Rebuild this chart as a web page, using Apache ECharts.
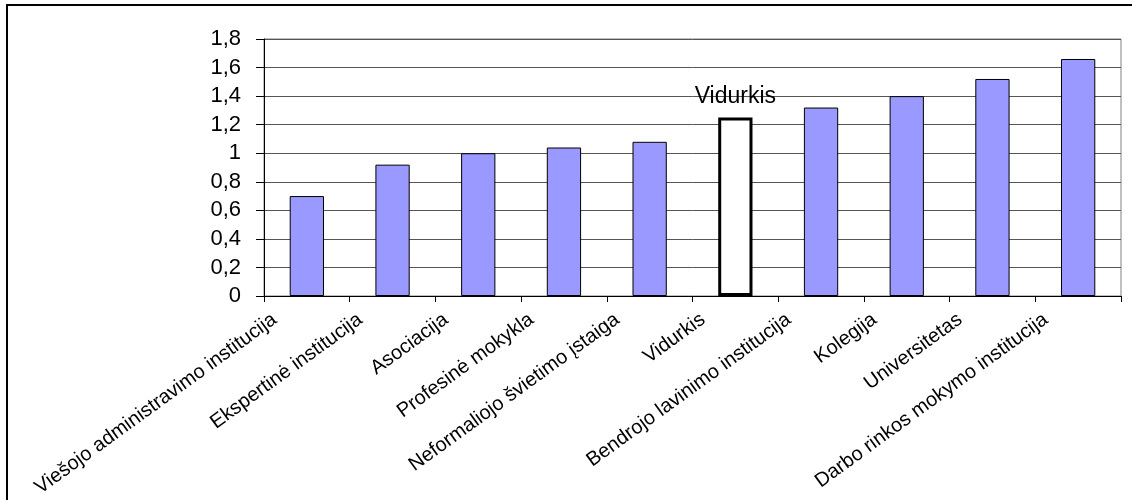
<!DOCTYPE html>
<html>
<head>
<meta charset="utf-8">
<script src="https://cdn.jsdelivr.net/npm/echarts@6/dist/echarts.min.js"></script>
<style>
html,body{margin:0;padding:0;background:#fff;}
#c{width:1132px;height:500px;}
</style>
</head>
<body>
<div id="c"></div>
<script>
const categories = [
  'Viešojo administravimo institucija',
  'Ekspertinė institucija',
  'Asociacija',
  'Profesinė mokykla',
  'Neformaliojo švietimo įstaiga',
  'Vidurkis',
  'Bendrojo lavinimo institucija',
  'Kolegija',
  'Universitetas',
  'Darbo rinkos mokymo institucija'
];
const values = [0.70, 0.92, 1.00, 1.04, 1.08, 1.25, 1.32, 1.40, 1.52, 1.66];
const averageName = 'Vidurkis';
const yTicks = { min: 0, max: 1.8, interval: 0.2 };

const FONT = 'Liberation Sans, Arial, sans-serif';

const barData = values.map((v, i) => {
  if (categories[i] === averageName) {
    return {
      value: v,
      itemStyle: { color: '#ffffff', borderColor: '#000000', borderWidth: 3 },
      label: {
        show: true, position: 'top', distance: 9,
        formatter: averageName,
        color: '#000', fontSize: 23, fontFamily: FONT
      }
    };
  }
  return v;
});

const chart = echarts.init(document.getElementById('c'), null, { renderer: 'canvas' });
chart.setOption({
  backgroundColor: '#ffffff',
  animation: false,
  graphic: [{
    type: 'rect',
    shape: { x: 7, y: 5, width: 1300, height: 700 },
    style: { fill: 'none', stroke: '#000', lineWidth: 2 },
    silent: true
  }],
  grid: {
    left: 264, right: 11, top: 39, bottom: 204,
    containLabel: false, outerBoundsMode: 'none',
    show: true, borderColor: '#808080', borderWidth: 1
  },
  xAxis: {
    type: 'category',
    data: categories,
    axisLine: { show: true, lineStyle: { color: '#000', width: 1 } },
    axisTick: { show: true, length: 6, lineStyle: { color: '#000' } },
    axisLabel: {
      interval: 0, rotate: 36, margin: -2,
      color: '#000', fontSize: 20, fontFamily: FONT,
      padding: [0, 40, 0, 0]
    },
    splitLine: { show: false }
  },
  yAxis: {
    type: 'value',
    min: yTicks.min, max: yTicks.max, interval: yTicks.interval,
    axisLine: { show: true, lineStyle: { color: '#000', width: 1 } },
    axisTick: { show: true, length: 8, lineStyle: { color: '#000' } },
    axisLabel: {
      margin: 23, color: '#000', fontSize: 22, fontFamily: FONT,
      formatter: v => String(parseFloat(v.toFixed(2))).replace('.', ',')
    },
    splitLine: { show: true, lineStyle: { color: '#555555', width: 1 } }
  },
  series: [{
    type: 'bar',
    data: barData,
    barWidth: '40%',
    itemStyle: { color: '#9999ff', borderColor: '#000', borderWidth: 1 }
  }]
});
</script>
</body>
</html>
